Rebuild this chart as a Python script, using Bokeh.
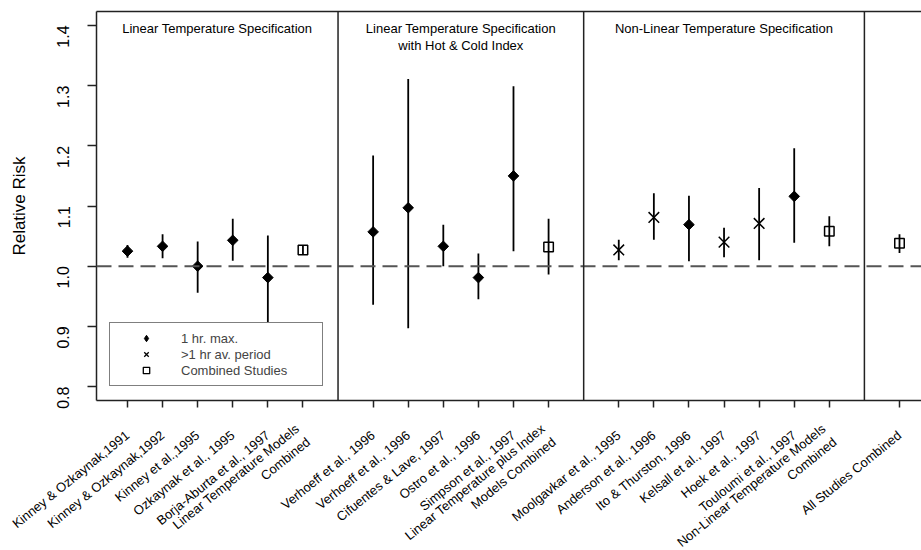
import math
from bokeh.plotting import figure
from bokeh.models import (ColumnDataSource, FixedTicker, Span, Legend, LegendItem,
                          LinearAxis, Range1d, PrintfTickFormatter)
from bokeh.core.properties import value
from bokeh.embed import file_html
from bokeh.resources import INLINE

# ---------------- data ----------------
panel_titles = ["Linear Temperature Specification",
                "Linear Temperature Specification\nwith Hot & Cold Index",
                "Non-Linear Temperature Specification"]

studies = ["Kinney & Ozkaynak,1991", "Kinney & Ozkaynak,1992", "Kinney et al.,1995",
           "Ozkaynak et al., 1995", "Borja-Aburta et al., 1997",
           "Linear Temperature Models\nCombined",
           "Verhoeff et al., 1996", "Verhoeff et al., 1996", "Cifuentes & Lave, 1997",
           "Ostro et al., 1996", "Simpson et al., 1997",
           "Linear Temperature plus Index\nModels Combined",
           "Moolgavkar et al., 1995", "Anderson et al., 1996", "Ito & Thurston, 1996",
           "Kelsall et al., 1997", "Hoek et al., 1997", "Touloumi et al., 1997",
           "Non-Linear Temperature Models\nCombined",
           "All Studies Combined"]
group = [0, 0, 0, 0, 0, 0,
         1, 1, 1, 1, 1, 1,
         2, 2, 2, 2, 2, 2, 2,
         3]
kind = ["max", "max", "max", "max", "max", "comb",
        "max", "max", "max", "max", "max", "comb",
        "avg", "avg", "max", "avg", "avg", "max", "comb",
        "comb"]
rr = [1.025, 1.033, 1.000, 1.043, 0.981, 1.027,
      1.057, 1.097, 1.033, 0.981, 1.150, 1.032,
      1.027, 1.081, 1.069, 1.040, 1.071, 1.116, 1.058,
      1.038]
lower = [1.014, 1.013, 0.956, 1.009, 0.870, 1.019,
         0.936, 0.897, 1.000, 0.945, 1.025, 0.986,
         1.010, 1.044, 1.008, 1.015, 1.010, 1.039, 1.033,
         1.022]
upper = [1.035, 1.053, 1.041, 1.079, 1.051, 1.034,
         1.184, 1.311, 1.069, 1.021, 1.299, 1.079,
         1.044, 1.121, 1.117, 1.064, 1.130, 1.196, 1.083,
         1.053]
legend_labels = {"max": "1 hr. max.", "avg": ">1 hr av. period", "comb": "Combined Studies"}
y_ticks = [0.8, 0.9, 1.0, 1.1, 1.2, 1.3, 1.4]

# ---------------- derived slots ----------------
slot = [i + 1 + g for i, g in enumerate(group)]
separators = [slot[i] - 1 for i in range(1, len(slot)) if group[i] != group[i - 1]]

FONT = "Liberation Sans"
W, H = 921, 550
B_LEFT, B_TOP, B_BOTTOM = 96, 11, 150
x_lo, x_hi = 0.117, 23.627
y_lo, y_hi = 0.7768, 1.4232

p = figure(width=W, height=H, x_range=Range1d(x_lo, x_hi), y_range=Range1d(y_lo, y_hi),
           output_backend="svg", toolbar_location=None,
           min_border_left=B_LEFT, min_border_right=0, min_border_top=B_TOP,
           min_border_bottom=B_BOTTOM)
p.xgrid.visible = False
p.ygrid.visible = False
p.outline_line_color = None
p.background_fill_color = "white"
p.border_fill_color = "white"

LC = "#222222"

# x axis with rotated study labels
xa = p.xaxis[0]
xa.ticker = FixedTicker(ticks=slot)
xa.major_label_overrides = {s: n for s, n in zip(slot, studies)}
xa.major_label_orientation = math.radians(39)
xa.major_label_text_font = FONT
xa.major_label_text_font_size = "13px"
xa.major_label_text_color = "black"
xa.major_label_text_line_height = 1.15
xa.major_label_standoff = 26
xa.major_tick_out = 7
xa.major_tick_in = 0
xa.minor_tick_line_color = None
xa.axis_line_color = LC
xa.axis_line_width = 1.5
xa.major_tick_line_color = LC
xa.major_tick_line_width = 1.5
# blank axis title with negative standoff: lets the long labels hang into the
# bottom border without shrinking the plotting frame
xa.axis_label = " "
xa.axis_label_text_font_size = "1px"
xa.axis_label_text_color = "white"
xa.axis_label_standoff = -90

# y axis
ya = p.yaxis[0]
ya.ticker = FixedTicker(ticks=y_ticks)
ya.formatter = PrintfTickFormatter(format="%.1f")
ya.major_label_orientation = math.pi / 2
ya.major_label_text_font = FONT
ya.major_label_text_font_size = "16px"
ya.major_label_text_color = "black"
ya.major_tick_out = 9
ya.major_tick_in = 0
ya.minor_tick_line_color = None
ya.axis_line_color = LC
ya.axis_line_width = 1.5
ya.major_tick_line_color = LC
ya.major_tick_line_width = 1.5
ya.major_label_standoff = 24
ya.axis_label = "Relative Risk"
ya.axis_label_text_font = FONT
ya.axis_label_text_font_size = "17px"
ya.axis_label_text_font_style = "normal"
ya.axis_label_text_color = "black"
ya.axis_label_standoff = 20

# top border
top = LinearAxis(ticker=FixedTicker(ticks=[]), major_tick_out=0, major_tick_in=0,
                 major_label_standoff=0, axis_label_standoff=0,
                 major_label_text_font_size="0px", major_label_text_color=None,
                 minor_tick_line_color=None, axis_line_color=LC, axis_line_width=1.5)
p.add_layout(top, "above")

# reference line and panel separators
p.add_layout(Span(location=1.0, dimension="width", line_color="#555555",
                  line_width=2, line_dash="15 7"))
for s in separators:
    p.add_layout(Span(location=s, dimension="height", line_color=LC, line_width=1.5))

# error bars
p.segment(x0=slot, y0=lower, x1=slot, y1=upper, line_color="black", line_width=1.8)

def pick(k):
    idx = [i for i, kk in enumerate(kind) if kk == k]
    return ColumnDataSource(dict(x=[slot[i] for i in idx], y=[rr[i] for i in idx]))

p.scatter("x", "y", source=pick("max"), marker="square", angle=math.pi / 4, size=7.5,
          fill_color="black", line_color="black")
p.scatter("x", "y", source=pick("avg"), marker="x", size=15, line_color="black", line_width=1.5)
p.scatter("x", "y", source=pick("comb"), marker="square", size=9.5, fill_color=None,
          line_color="black", line_width=1.5)

# legend proxies (not drawn in the frame)
nan = float("nan")
proxy = lambda: ColumnDataSource(dict(x=[nan], y=[nan]))
r1 = p.scatter("x", "y", source=proxy(), marker="diamond", fill_color="black", line_color="black")
r2 = p.scatter("x", "y", source=proxy(), marker="x", line_color="black", line_width=1.3)
r3 = p.scatter("x", "y", source=proxy(), marker="square", fill_color=None, line_color="black", line_width=1.3)
legend = Legend(items=[LegendItem(label=legend_labels["max"], renderers=[r1]),
                       LegendItem(label=legend_labels["avg"], renderers=[r2]),
                       LegendItem(label=legend_labels["comb"], renderers=[r3])],
                location=(13, 14), padding=7, spacing=0, margin=0,
                label_height=16, glyph_height=16, glyph_width=58, label_standoff=6,
                label_width=134, label_text_font=FONT, label_text_font_size="13px",
                border_line_color="black", border_line_width=1.5,
                background_fill_color="white", background_fill_alpha=1.0)
p.add_layout(legend, "center")

# panel titles
starts = [x_lo] + separators
ends = separators
centers = [(a + b) / 2 for a, b in zip(starts, ends)]
p.text(x=centers, y=[1.4075] * len(centers), text=panel_titles, text_align="center",
       text_baseline="top", text_font=value(FONT), text_font_size="13px",
       text_line_height=1.15, text_color="black")

open("out.html", "w").write(file_html(p, INLINE))
